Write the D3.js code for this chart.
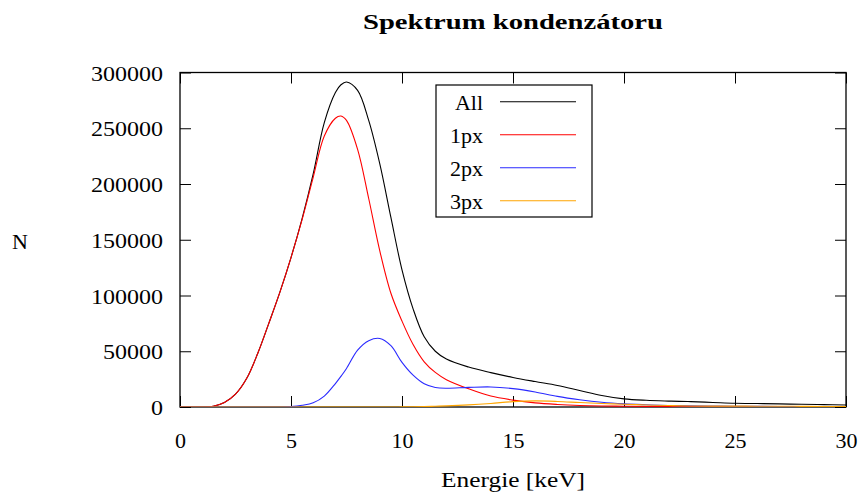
<!DOCTYPE html>
<html>
<head>
<meta charset="utf-8">
<script src="https://cdn.jsdelivr.net/npm/d3@7"></script>
<style>
  html, body { margin: 0; padding: 0; background: #fff; }
  svg text { font-family: "Liberation Serif", "Times New Roman", serif; fill: #000; }
</style>
</head>
<body>
<svg id="chart" width="863" height="502"></svg>
<script>
// ---- data ----
const energy = [0,0.5,1,1.5,2,2.5,3,3.5,4,4.5,5,5.5,6,6.5,7,7.25,7.5,8,8.5,9,9.5,10,10.5,11,11.5,12,13,14,15,16,17,18,19,20,21,22,23,24,25,26,27,28,29,30];
const allCounts = [0,0,0,700,4000,11500,25500,48000,75000,103000,134000,169000,209000,255000,282000,289000,291500,284000,257000,218000,170000,123000,88000,63000,50000,43000,35800,30800,26500,22800,19300,14800,10300,7300,6000,5300,4800,4100,3400,3100,2800,2400,2100,1800];
const px1Counts = [0,0,0,700,4000,11500,25500,48000,75000,103000,134000,168000,206000,243000,259000,261000,257000,231000,187000,140000,102000,77000,56000,40500,31000,24500,16300,9800,6200,3700,2300,1400,900,700,500,450,400,350,350,300,300,300,300,300];
const px2Counts = [0,0,0,0,0,0,0,0,0,0,300,1500,3800,9800,21000,27500,34500,51000,59500,61500,55000,40000,28500,20800,17500,16800,17600,18000,16500,13500,9500,6500,4200,2800,2000,1400,1100,900,700,600,500,400,350,300];
const px3Counts = [0,0,0,0,0,0,0,0,0,0,0,0,0,0,0,0,0,0,0,0,0,100,200,400,700,1000,1900,3200,4800,5500,5000,4000,3100,2500,1800,1300,900,800,800,700,700,600,500,500];
const xTicks = [0,5,10,15,20,25,30];
const yTicks = [0,50000,100000,150000,200000,250000,300000];
const seriesNames = ["All","1px","2px","3px"];
const seriesColors = ["#000000","#ff0000","#2a2aff","#ffa500"];
const seriesValues = [allCounts, px1Counts, px2Counts, px3Counts];

// ---- layout ----
const svg = d3.select("#chart");
const L = 180, R = 846, T = 72.5, B = 407;
const x = d3.scaleLinear().domain([0,30]).range([L,R]);
const y = d3.scaleLinear().domain([0,300000]).range([B,T]);
const tickLen = 11;

svg.append("defs").append("clipPath").attr("id","clip")
  .append("rect").attr("x",L).attr("y",T).attr("width",R-L).attr("height",B-T);

// Title
svg.append("text").attr("x", 513).attr("y", 29).attr("text-anchor","middle")
  .attr("font-size", 20).attr("font-weight","bold")
  .attr("textLength", 300).attr("lengthAdjust","spacingAndGlyphs")
  .text("Spektrum kondenzátoru");

// Axes (bottom, left, top, right mirrored ticks)
const fmt = d3.format("d");
const gB = svg.append("g").attr("transform",`translate(0,${B})`)
  .call(d3.axisBottom(x).tickValues(xTicks).tickSize(-tickLen).tickPadding(20).tickFormat(fmt));
const gT = svg.append("g").attr("transform",`translate(0,${T})`)
  .call(d3.axisTop(x).tickValues(xTicks).tickSize(-tickLen).tickFormat(""));
const gL = svg.append("g").attr("transform",`translate(${L},0)`)
  .call(d3.axisLeft(y).tickValues(yTicks).tickSize(-tickLen).tickPadding(17).tickFormat(fmt));
const gR = svg.append("g").attr("transform",`translate(${R},0)`)
  .call(d3.axisRight(y).tickValues(yTicks).tickSize(-tickLen).tickFormat(""));
[gB,gT,gL,gR].forEach(g => {
  g.select(".domain").remove();
  g.selectAll(".tick line").attr("stroke","#000").attr("stroke-width",1);
  g.selectAll(".tick text").attr("font-size",22).attr("font-family","Liberation Serif, serif").attr("fill","#000");
});
gB.selectAll(".tick text").attr("dy", null).attr("y", 448 - B);
gL.selectAll(".tick text").attr("dy", null).attr("y", 7.5)
  .attr("textLength", function(d){ return String(d).length * 12; }).attr("lengthAdjust","spacingAndGlyphs");

// Frame
svg.append("rect").attr("x",L).attr("y",T).attr("width",R-L).attr("height",B-T)
  .attr("fill","none").attr("stroke","#000").attr("stroke-width",1.3);

// Axis titles
svg.append("text").attr("x", 513).attr("y", 487).attr("text-anchor","middle")
  .attr("font-size", 22).attr("textLength", 144).attr("lengthAdjust","spacingAndGlyphs")
  .text("Energie [keV]");
svg.append("text").attr("x", 20).attr("y", 249).attr("text-anchor","middle")
  .attr("font-size", 22).text("N");

// Curves
const line = d3.line().x((d,i) => x(energy[i])).y(d => y(d)).curve(d3.curveCatmullRom.alpha(0.5));
const gC = svg.append("g").attr("clip-path","url(#clip)");
seriesValues.forEach((vals, k) => {
  gC.append("path").datum(vals).attr("d", line)
    .attr("fill","none").attr("stroke", seriesColors[k]).attr("stroke-width",1.1);
});

// Legend
const lg = svg.append("g");
lg.append("rect").attr("x",436).attr("y",85).attr("width",156).attr("height",132)
  .attr("fill","#fff").attr("stroke","#000").attr("stroke-width",1.2);
seriesNames.forEach((name,k) => {
  const ly = 101.7 + k*33;
  lg.append("text").attr("x",483).attr("y", ly + 8).attr("text-anchor","end")
    .attr("font-size",22).text(name);
  lg.append("line").attr("x1",500).attr("x2",576).attr("y1",ly).attr("y2",ly)
    .attr("stroke",seriesColors[k]).attr("stroke-width",1.1);
});
</script>
</body>
</html>
